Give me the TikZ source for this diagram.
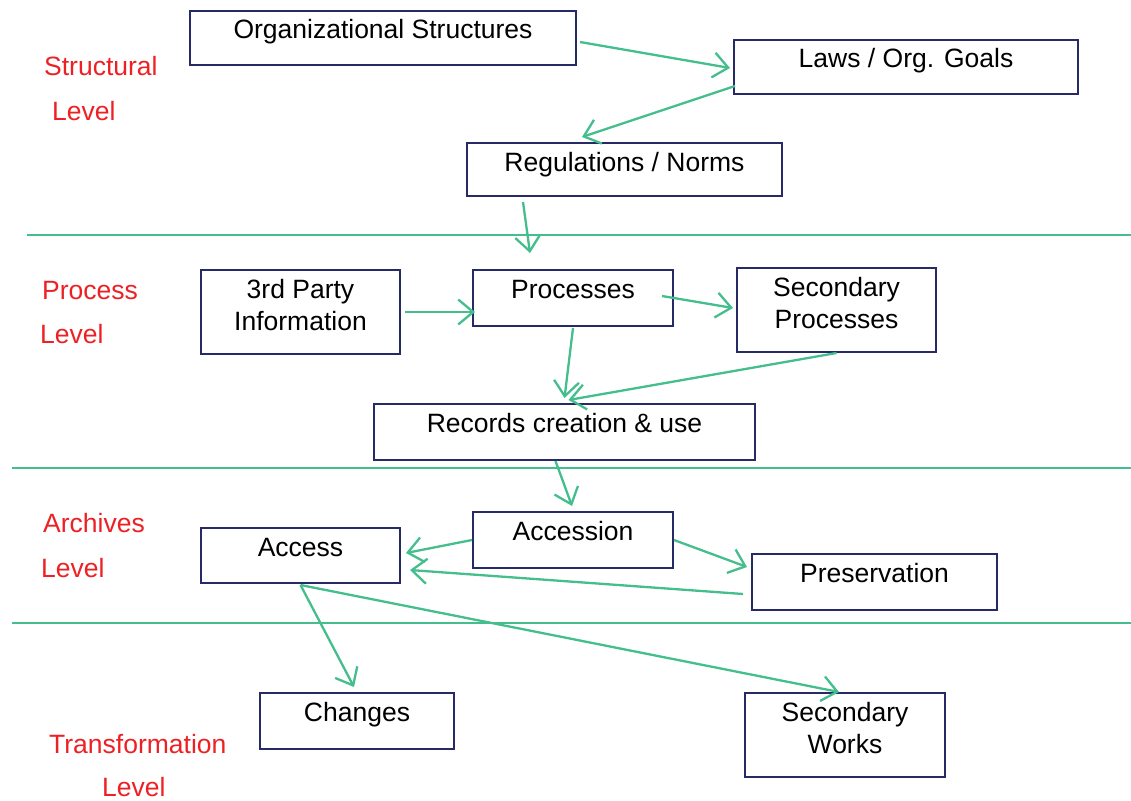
\documentclass[tikz,border=0pt]{standalone}
\usepackage{fontspec}
\setmainfont{Liberation Sans}
\usepackage{tikz}
\usetikzlibrary{arrows.meta}
\usetikzlibrary{calc}
\definecolor{boxblue}{RGB}{38,42,102}
\definecolor{flowgreen}{RGB}{68,190,140}
\definecolor{lvlred}{RGB}{237,32,36}
\newcommand{\btxt}[3]{\parbox[c][#2][t]{#1}{\centering\rule{0pt}{28pt}#3}}
\tikzset{every node/.style={font=\fontsize{26.5pt}{32pt}\selectfont},
  box/.style={draw=boxblue, line width=2pt, inner sep=0pt, anchor=north west},
  lvl/.style={text=lvlred, inner sep=0pt, anchor=base west},
  flow/.style={draw=flowgreen, line width=2.3pt, -{Straight Barb[length=15pt,width=25pt,line width=2.3pt]}},
  sep/.style={draw=flowgreen, line width=1.8pt}}

\begin{document}
\begin{tikzpicture}[x=1pt, y=-1pt]
  \useasboundingbox (0,0) rectangle (1131,800);

  % levels
  \node[lvl] at (44,75) (strA) {Structural};
  \node[lvl] at (52,120) (strB) {Level};
  \node[lvl] at (42,299) (prcA) {Process};
  \node[lvl] at (40,343) (prcB) {Level};
  \node[lvl] at (43,532) (arcA) {Archives};
  \node[lvl] at (41,577) (arcB) {Level};
  \node[lvl] at (49,753) (trfA) {Transformation};
  \node[lvl] at (102,796) (trfB) {Level};

  \draw[sep] (27,235) -- (1131,235);
  \draw[sep] (12,468) -- (1131,468);
  \draw[sep] (12,623) -- (1131,623);

  % boxes
  \node[box] at (189,10) (orgs) {\btxt{386pt}{54pt}{Organizational Structures}};
  \node[box] at (733,39) (laws) {\btxt{344pt}{54pt}{Laws / Org. Goals}};
  \node[box] at (466,142) (regs) {\btxt{315pt}{53pt}{Regulations / Norms}};
  \node[box] at (200,269) (party) {\btxt{199pt}{84pt}{3rd Party\\Information}};
  \node[box] at (472,269) (procs) {\btxt{200pt}{56pt}{Processes}};
  \node[box] at (736,267) (secp) {\btxt{199pt}{84pt}{Secondary\\Processes}};
  \node[box] at (373,403) (recs) {\btxt{381pt}{56pt}{Records creation \& use}};
  \node[box] at (472,511) (accn) {\btxt{200pt}{56pt}{Accession}};
  \node[box] at (200,527) (access) {\btxt{199pt}{55pt}{Access}};
  \node[box] at (751,553) (pres) {\btxt{245pt}{56pt}{Preservation}};
  \node[box] at (259,692) (chg) {\btxt{194pt}{56pt}{Changes}};
  \node[box] at (744,692) (secw) {\btxt{200pt}{84pt}{Secondary\\Works}};

  % arrows
  \draw[flow] ($(orgs.north east)+(3,32)$) -- ($(laws.north west)+(-3,29)$);
  \draw[flow] ($(laws.north west)+(2,47)$) -- ($(regs.north west)+(116,-5)$);
  \draw[flow] ($(regs.south west)+(57,5)$) -- ($(procs.north west)+(58,-16)$);
  \draw[flow] ($(party.north east)+(4,43)$) -- ($(procs.north west)+(3,43)$);
  \draw[flow] ($(procs.north east)+(-12,27)$) -- ($(secp.north west)+(-3,41)$);
  \draw[flow] ($(procs.south)+(0,1)$) -- ($(recs.north)+(0,-5)$);
  \draw[flow] (secp.south) -- ($(recs.north)+(4,-3)$);
  \draw[flow] ($(recs.south)+(-9,0)$) -- ($(accn.north)+(-1,-5)$);
  \draw[flow] (accn.west) -- ($(access.north east)+(5,26)$);
  \draw[flow] (accn.east) -- ($(pres.north west)+(-4,14)$);
  \draw[flow] ($(pres.north west)+(-8,41)$) -- ($(access.north east)+(9,43)$);
  \draw[flow] ($(access.south)+(0,1)$) -- ($(chg.north west)+(95,-5)$);
  \draw[flow] ($(access.south)+(0,1)$) -- ($(secw.north west)+(95,0)$);
\end{tikzpicture}
\end{document}
